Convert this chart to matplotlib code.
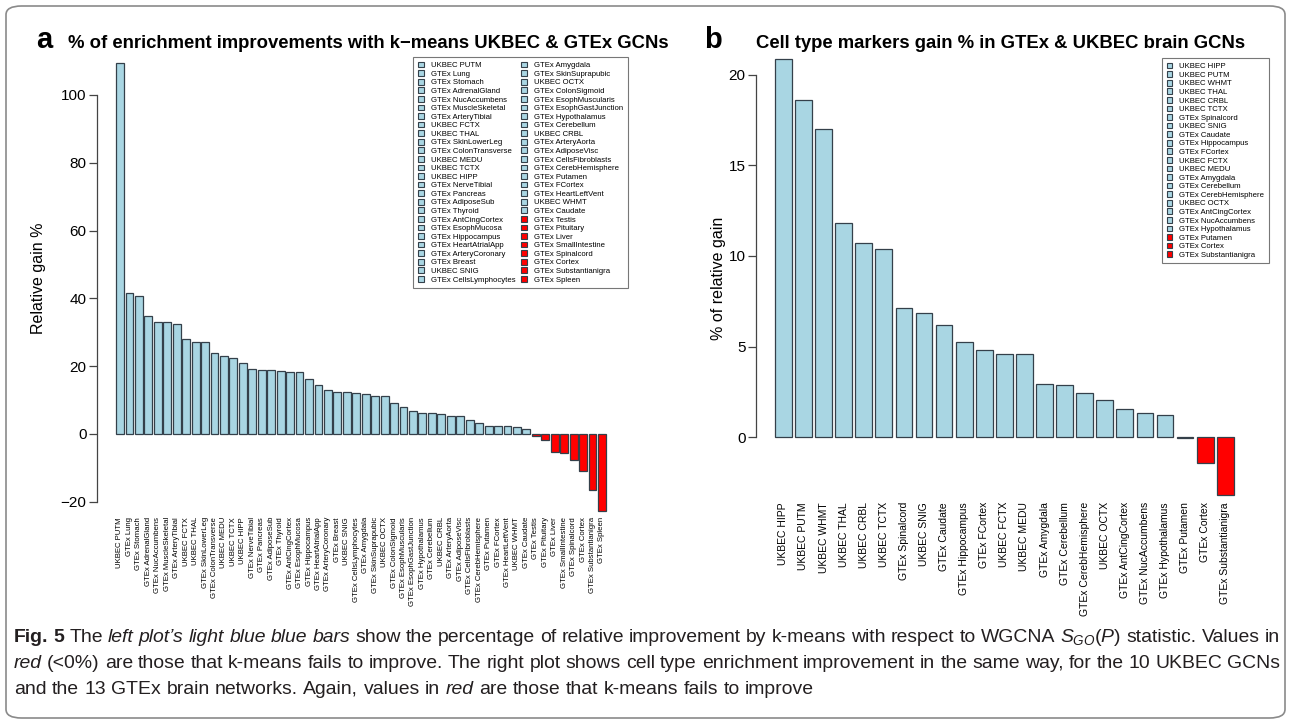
import numpy as np
import matplotlib
matplotlib.use("Agg")
import matplotlib.pyplot as plt
from matplotlib.patches import Patch, FancyBboxPatch
from matplotlib import font_manager

W, H = 1291, 723

# panel a: GO enrichment gain of k-means over WGCNA
left_names = ["UKBEC PUTM", "GTEx Lung", "GTEx Stomach", "GTEx AdrenalGland", "GTEx NucAccumbens",
              "GTEx MuscleSkeletal", "GTEx ArteryTibial", "UKBEC FCTX", "UKBEC THAL", "GTEx SkinLowerLeg",
              "GTEx ColonTransverse", "UKBEC MEDU", "UKBEC TCTX", "UKBEC HIPP", "GTEx NerveTibial",
              "GTEx Pancreas", "GTEx AdiposeSub", "GTEx Thyroid", "GTEx AntCingCortex", "GTEx EsophMucosa",
              "GTEx Hippocampus", "GTEx HeartAtrialApp", "GTEx ArteryCoronary", "GTEx Breast", "UKBEC SNIG",
              "GTEx CellsLymphocytes", "GTEx Amygdala", "GTEx SkinSuprapubic", "UKBEC OCTX", "GTEx ColonSigmoid",
              "GTEx EsophMuscularis", "GTEx EsophGastJunction", "GTEx Hypothalamus", "GTEx Cerebellum",
              "UKBEC CRBL", "GTEx ArteryAorta", "GTEx AdiposeVisc", "GTEx CellsFibroblasts",
              "GTEx CerebHemisphere", "GTEx Putamen", "GTEx FCortex", "GTEx HeartLeftVent", "UKBEC WHMT",
              "GTEx Caudate", "GTEx Testis", "GTEx Pituitary", "GTEx Liver", "GTEx SmallIntestine",
              "GTEx Spinalcord", "GTEx Cortex", "GTEx Substantianigra", "GTEx Spleen"]
left_gain = [109.5, 41.7, 40.7, 34.8, 33.0, 33.0, 32.3, 27.9, 27.2, 27.2,
             24.0, 23.0, 22.3, 21.0, 19.1, 19.0, 19.0, 18.6, 18.4, 18.4,
             16.2, 14.4, 12.9, 12.4, 12.4, 12.1, 11.7, 11.3, 11.3, 9.2,
             8.0, 6.8, 6.3, 6.1, 5.9, 5.3, 5.3, 4.1, 3.3, 2.4,
             2.4, 2.4, 2.1, 1.5, -0.6, -1.8, -5.4, -5.6, -7.6, -11.0,
             -16.4, -22.8]
left_yticks = [-20, 0, 20, 40, 60, 80, 100]

# panel b: cell type marker gain in brain GCNs
right_names = ["UKBEC HIPP", "UKBEC PUTM", "UKBEC WHMT", "UKBEC THAL", "UKBEC CRBL", "UKBEC TCTX",
               "GTEx Spinalcord", "UKBEC SNIG", "GTEx Caudate", "GTEx Hippocampus", "GTEx FCortex",
               "UKBEC FCTX", "UKBEC MEDU", "GTEx Amygdala", "GTEx Cerebellum", "GTEx CerebHemisphere",
               "UKBEC OCTX", "GTEx AntCingCortex", "GTEx NucAccumbens", "GTEx Hypothalamus",
               "GTEx Putamen", "GTEx Cortex", "GTEx Substantianigra"]
right_gain = [20.84, 18.62, 16.99, 11.79, 10.74, 10.38, 7.15, 6.84, 6.19, 5.24, 4.82, 4.6, 4.6,
              2.94, 2.89, 2.46, 2.06, 1.56, 1.32, 1.23, -0.05, -1.40, -3.2]
right_yticks = [0, 5, 10, 15, 20]

BLUE = '#a9d6e3'
RED = '#ff0000'
EDGE = '#34404a'

plt.rcParams['font.family'] = ['Liberation Sans', 'DejaVu Sans']


def has_font(name):
    try:
        font_manager.findfont(font_manager.FontProperties(family=name), fallback_to_default=False)
        return True
    except ValueError:
        return False


cap_family = 'Liberation Sans Narrow' if has_font('Liberation Sans Narrow') else 'Liberation Sans'
plt.rcParams['mathtext.fontset'] = 'custom'
plt.rcParams['mathtext.it'] = cap_family + ':italic'
plt.rcParams['mathtext.rm'] = cap_family

fig = plt.figure(figsize=(W / 100, H / 100), dpi=100)


def px_rect(l, t, r, b):
    return [l / W, 1 - b / H, (r - l) / W, (b - t) / H]


def bar_panel(rect, names, vals, xlim, ylim, yticks, xfs):
    ax = fig.add_axes(rect)
    vals = np.array(vals)
    x = 0.7 + 1.2 * np.arange(len(vals))
    colors = [RED if v < 0 else BLUE for v in vals]
    ax.bar(x, vals, width=1.0, color=colors, edgecolor=EDGE, linewidth=0.9)
    ax.set_xlim(*xlim)
    ax.set_ylim(*ylim)
    ax.set_xticks(x)
    ax.set_xticklabels(names, rotation=90, fontsize=xfs)
    ax.tick_params(axis='x', length=0, pad=1.5)
    ax.set_yticks(yticks)
    ax.tick_params(axis='y', length=6, width=0.9, pad=1.5, labelsize=11, color='#444444')
    for s in ['top', 'right', 'bottom']:
        ax.spines[s].set_visible(False)
    ax.spines['left'].set_bounds(yticks[0], yticks[-1])
    ax.spines['left'].set_color('#444444')
    ax.spines['left'].set_linewidth(0.9)
    ax.patch.set_alpha(0)
    return ax


ax1 = bar_panel(px_rect(97, 55, 607.5, 515), left_names, left_gain,
                (-2.22, 62.6), (-23.9, 111.8), left_yticks, 5.6)
ax2 = bar_panel(px_rect(756, 55, 1237, 500), right_names, right_gain,
                (-0.936, 27.8), (-3.46, 21.08), right_yticks, 7.5)

fig.text(38 / W, 1 - 278 / H, "Relative gain %", rotation=90, fontsize=11.5, ha='center', va='center')
fig.text(718 / W, 1 - 278 / H, "% of relative gain", rotation=90, fontsize=11.5, ha='center', va='center')


def legend_handles(names, vals):
    return [Patch(facecolor=RED if v < 0 else BLUE, edgecolor=EDGE, linewidth=0.8, label=n)
            for n, v in zip(names, vals)]


leg_kw = dict(fontsize=5.6, frameon=True, fancybox=False, edgecolor='#777777', framealpha=1,
              handlelength=0.75, handleheight=0.75, handletextpad=0.9, labelspacing=0.13,
              borderaxespad=0, borderpad=0.6, bbox_transform=fig.transFigure, loc='upper right')
lg1 = fig.legend(handles=legend_handles(left_names, left_gain), ncol=2, columnspacing=0.8,
                 bbox_to_anchor=(628 / W, 1 - 57 / H), **leg_kw)
lg2 = fig.legend(handles=legend_handles(right_names, right_gain), ncol=1,
                 bbox_to_anchor=(1269 / W, 1 - 58 / H), **leg_kw)
for lg in (lg1, lg2):
    lg.get_frame().set_linewidth(0.8)

# panel titles
fig.text(36 / W, 1 - 48 / H, "a", fontsize=21, weight='bold', va='baseline')
fig.text(368 / W, 1 - 48 / H, "% of enrichment improvements with k\u2212means UKBEC & GTEx GCNs",
         fontsize=13.3, weight='bold', ha='center', va='baseline')
fig.text(704 / W, 1 - 48 / H, "b", fontsize=21, weight='bold', va='baseline')
fig.text(1001 / W, 1 - 48 / H, "Cell type markers gain % in GTEx & UKBEC brain GCNs",
         fontsize=13.3, weight='bold', ha='center', va='baseline')

# outer rounded frame
fig.patches.append(FancyBboxPatch((6 / W, 5 / H), 1279 / W, 712 / H,
                                  boxstyle="round,pad=0,rounding_size=0.012",
                                  transform=fig.transFigure, facecolor='none',
                                  edgecolor='#8a8a8a', linewidth=1.2))

# caption, set word by word so lines can be justified
cap_lines = [
    [("Fig. 5", 'normal', 'bold'), ("The", 'normal', 'normal'),
     ("left plot\u2019s light blue blue bars", 'italic', 'normal'),
     ("show the percentage of relative improvement by k-means with respect to WGCNA", 'normal', 'normal'),
     ("$S_{GO}(P)$", 'math', 'normal'), ("statistic. Values in", 'normal', 'normal')],
    [("red", 'italic', 'normal'),
     ("(<0%) are those that k-means fails to improve. The right plot shows cell type enrichment "
      "improvement in the same way, for the 10 UKBEC GCNs", 'normal', 'normal')],
    [("and the 13 GTEx brain networks. Again, values in", 'normal', 'normal'), ("red", 'italic', 'normal'),
     ("are those that k-means fails to improve", 'normal', 'normal')],
]
cap_base = [642, 668, 694]
cap_left, cap_right = 14, 1280
renderer = fig.canvas.get_renderer()


def words_of(line):
    out = []
    for txt, style, weight in line:
        if style == 'math':
            out.append((txt, 'normal', weight))
        else:
            out += [(w, style, weight) for w in txt.split(' ')]
    return out


def measure(s, style, weight, size):
    t = fig.text(0, 0, s, fontsize=size, style=style, weight=weight, family=cap_family)
    w = t.get_window_extent(renderer=renderer).width
    t.remove()
    return w


def line_width(words, size):
    sp = measure("x x", 'normal', 'normal', size) - measure("xx", 'normal', 'normal', size)
    return sum(measure(*w, size) for w in words) + sp * (len(words) - 1)


size = 13.0
first = words_of(cap_lines[0])
size = size * (cap_right - cap_left) / line_width(first, size)
space = measure("x x", 'normal', 'normal', size) - measure("xx", 'normal', 'normal', size)

for i, line in enumerate(cap_lines):
    words = words_of(line)
    widths = [measure(*w, size) for w in words]
    gap = space
    if i < len(cap_lines) - 1:
        gap = (cap_right - cap_left - sum(widths)) / (len(words) - 1)
    x = cap_left
    for (s, style, weight), w in zip(words, widths):
        fig.text(x / W, 1 - cap_base[i] / H, s, fontsize=size, style=style, weight=weight,
                 family=cap_family, va='baseline', ha='left', color='#231f20')
        x += w + gap

fig.savefig("out.png", dpi=100)
